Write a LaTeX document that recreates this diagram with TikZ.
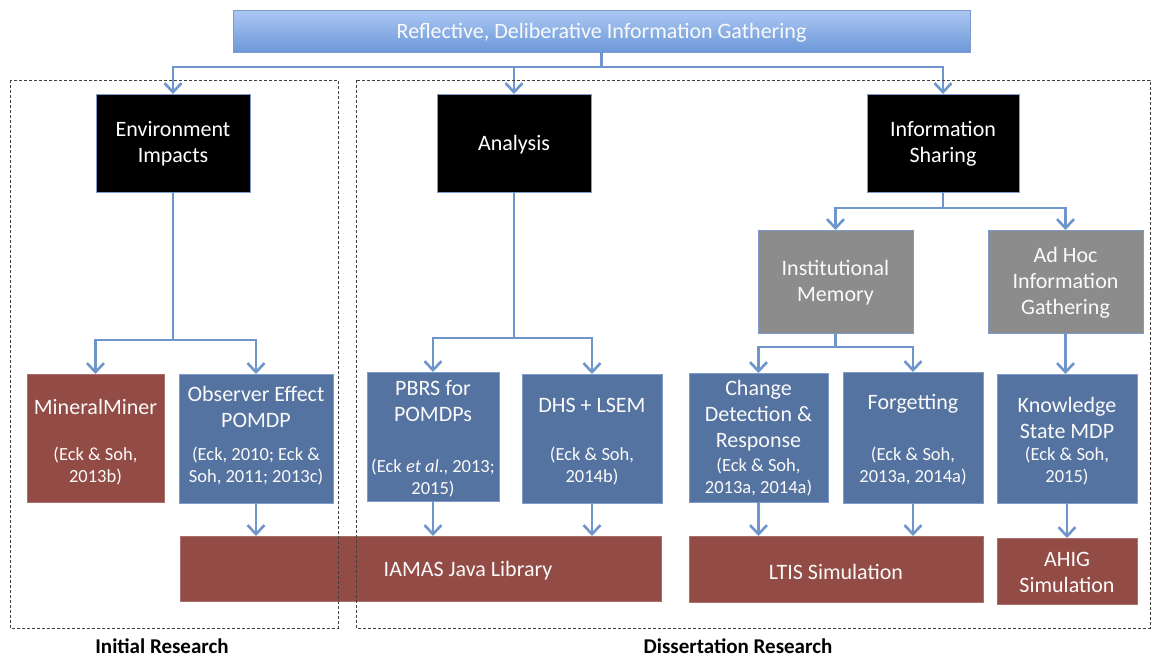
\documentclass[tikz,border=0pt]{standalone}
\usepackage{fontspec}
\setmainfont{Carlito}
\usetikzlibrary{arrows.meta}
\definecolor{boxblue}{RGB}{85,115,160}
\definecolor{bordblue}{RGB}{125,155,205}
\definecolor{boxbrown}{RGB}{147,75,69}
\definecolor{boxgray}{RGB}{140,140,140}
\definecolor{arrblue}{RGB}{110,150,205}
\definecolor{topa}{RGB}{172,200,243}
\definecolor{topb}{RGB}{108,152,216}
\definecolor{txtw}{RGB}{250,250,250}
\tikzset{
  box/.style={anchor=north west, inner sep=0pt, outer sep=0pt, line width=1pt},
  bluebox/.style={box, draw=bordblue, fill=boxblue},
  brownbox/.style={box, draw=boxbrown!80!white, fill=boxbrown},
  graybox/.style={box, draw=bordblue, fill=boxgray},
  blackbox/.style={box, draw=bordblue, fill=black},
  ttl/.style={text=txtw, align=center, font=\fontsize{22}{26}\selectfont, inner sep=0pt},
  cit/.style={text=txtw, align=center, font=\fontsize{18.5}{22}\selectfont, inner sep=0pt},
  arr/.style={draw=arrblue, line width=2.6pt, -{Straight Barb[length=9pt,width=17pt]}},
  ln/.style={draw=arrblue, line width=2.6pt},
  dbox/.style={draw=black!75, densely dashed, line width=0.7pt},
  foot/.style={font=\fontsize{21}{24}\bfseries\selectfont, inner sep=0pt}
}
\begin{document}
\begin{tikzpicture}[x=1pt,y=-1pt]
\useasboundingbox (0,0) rectangle (1152,657);
% top
\node[box, draw=bordblue, top color=topa, bottom color=topb, minimum width=737, minimum height=42] (top) at (233,10) {};
\node[ttl, font=\fontsize{22}{26}\selectfont] (topt) at (601.5,33) {Reflective, Deliberative Information Gathering};
% level 1
\node[blackbox, minimum width=154, minimum height=98] (env) at (96,94) {};
\node[ttl, text=white] (envt) at (173,144) {Environment\\Impacts};
\node[blackbox, minimum width=154, minimum height=98] (an) at (437,94) {};
\node[ttl, text=white] (ant) at (514,145) {Analysis};
\node[blackbox, minimum width=152, minimum height=98] (is) at (867,94) {};
\node[ttl, text=white] (ist) at (943,144) {Information\\Sharing};
% level 2 gray
\node[graybox, minimum width=155, minimum height=103] (im) at (758,230) {};
\node[ttl] (imt) at (835.5,283) {Institutional\\Memory};
\node[graybox, minimum width=155, minimum height=103] (ah) at (988,230) {};
\node[ttl] (aht) at (1065.5,283) {Ad Hoc\\Information\\Gathering};
% level 3
\node[brownbox, minimum width=137, minimum height=128] (mm) at (27,374) {};
\node[ttl] (mmt) at (95.5,407) {MineralMiner};
\node[cit] (mmc) at (95.5,466) {(Eck \& Soh,\\2013b)};
\node[bluebox, minimum width=154, minimum height=129] (oe) at (179,374) {};
\node[ttl] (oet) at (256,407) {Observer Effect\\POMDP};
\node[cit] (oec) at (256,466) {(Eck, 2010; Eck \&\\Soh, 2011; 2013c)};
\node[bluebox, minimum width=132, minimum height=129] (pbrs) at (367,372) {};
\node[ttl] (pbrst) at (433,401) {PBRS for\\POMDPs};
\node[cit] (pbrsc) at (433,478) {(Eck \textit{et al}., 2013;\\2015)};
\node[bluebox, minimum width=140, minimum height=129] (dhs) at (522,374) {};
\node[ttl] (dhst) at (592,405) {DHS + LSEM};
\node[cit] (dhsc) at (592,466) {(Eck \& Soh,\\2014b)};
\node[bluebox, minimum width=139, minimum height=129] (cd) at (689,373) {};
\node[ttl] (cdt) at (758.5,416) {Change\\Detection \&\\Response};
\node[cit] (cdc) at (758.5,477) {(Eck \& Soh,\\2013a, 2014a)};
\node[bluebox, minimum width=140, minimum height=131] (fg) at (843,372) {};
\node[ttl] (fgt) at (913,404) {Forgetting};
\node[cit] (fgc) at (913,466) {(Eck \& Soh,\\2013a, 2014a)};
\node[bluebox, minimum width=140, minimum height=129] (ks) at (997,374) {};
\node[ttl] (kst) at (1067,418) {Knowledge\\State MDP};
\node[cit] (ksc) at (1067,466) {(Eck \& Soh,\\2015)};
% level 4
\node[brownbox, minimum width=481, minimum height=65] (iam) at (180,536) {};
\node[ttl] (iamt) at (468,571) {IAMAS Java Library};
\node[brownbox, minimum width=294, minimum height=66] (lt) at (689,536) {};
\node[ttl] (ltt) at (836,572) {LTIS Simulation};
\node[brownbox, minimum width=140, minimum height=66] (ahig) at (997,538) {};
\node[ttl] (ahigt) at (1067,572) {AHIG\\Simulation};
% connectors
\draw[ln] (top.south) -- ++(0,15) coordinate (tj);
\draw[arr] (tj) -| (env.north);
\draw[arr] (tj) -| (an.north);
\draw[arr] (tj) -| (is.north);
\draw[ln] (env.south) -- ++(0,148) coordinate (ej);
\draw[arr] (ej) -| (mm.north);
\draw[arr] (ej) -| (oe.north);
\draw[ln] (an.south) -- ++(0,146) coordinate (aj);
\draw[arr] (aj) -| (pbrs.north);
\draw[arr] (aj) -| (dhs.north);
\draw[ln] (is.south) -- ++(0,16) coordinate (ij);
\draw[arr] (ij) -| (im.north);
\draw[arr] (ij) -| (ah.north);
\draw[ln] (im.south) -- ++(0,14) coordinate (mj);
\draw[arr] (mj) -| (cd.north);
\draw[arr] (mj) -| (fg.north);
\draw[arr] (ah.south) -- (ah.south |- ks.north);
\draw[arr] (oe.south) -- (oe.south |- iam.north);
\draw[arr] (pbrs.south) -- (pbrs.south |- iam.north);
\draw[arr] (dhs.south) -- (dhs.south |- iam.north);
\draw[arr] (cd.south) -- (cd.south |- lt.north);
\draw[arr] (fg.south) -- (fg.south |- lt.north);
\draw[arr] (ks.south) -- (ahig.north);
% dashed regions
\draw[dbox] (10,80) rectangle (338,628);
\draw[dbox] (356,80) rectangle (1150,628);
\node[foot] (ir) at (162,646) {Initial Research};
\node[foot] (dr) at (738,646) {Dissertation Research};
\end{tikzpicture}
\end{document}
